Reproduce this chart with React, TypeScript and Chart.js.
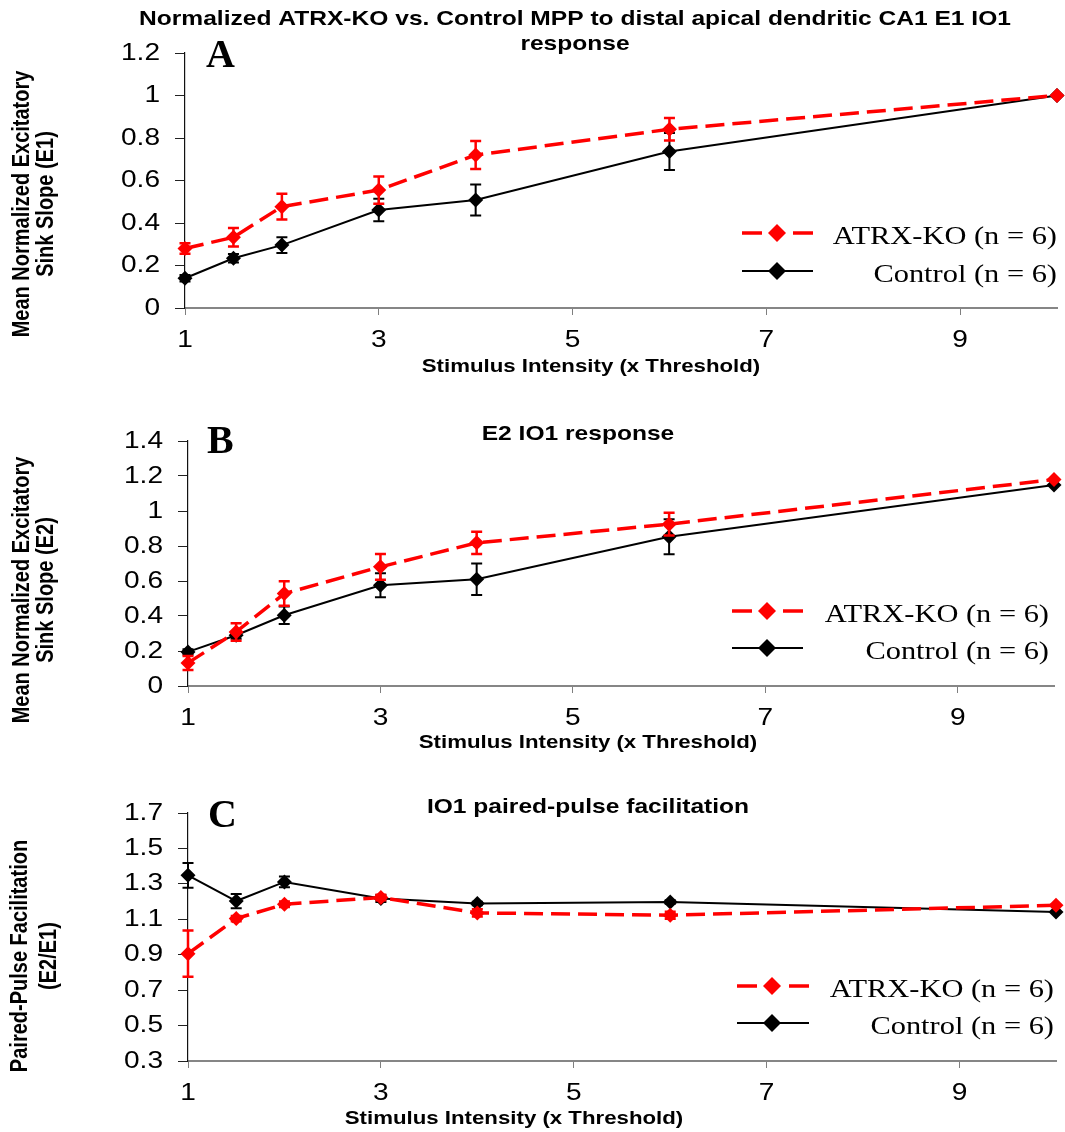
import React, { useEffect, useRef } from 'react';
import { Chart, registerables } from 'chart.js';

Chart.register(...registerables);

// ---------------- data ----------------
const stimulus = [1, 1.5, 2, 3, 4, 6, 10];
const xTicks = [1, 3, 5, 7, 9];
const seriesNames = ['ATRX-KO (n = 6)', 'Control (n = 6)'];

const e1Ticks = [0, 0.2, 0.4, 0.6, 0.8, 1, 1.2];
const e1Atrx = [0.28, 0.333, 0.477, 0.555, 0.72, 0.841, 1.0];
const e1AtrxErr = [0.025, 0.043, 0.061, 0.064, 0.066, 0.053, 0];
const e1Ctrl = [0.14, 0.234, 0.296, 0.461, 0.508, 0.736, 1.0];
const e1CtrlErr = [0.015, 0.02, 0.037, 0.053, 0.073, 0.087, 0];

const e2Ticks = [0, 0.2, 0.4, 0.6, 0.8, 1, 1.2, 1.4];
const e2Atrx = [0.132, 0.309, 0.528, 0.681, 0.818, 0.925, 1.18];
const e2AtrxErr = [0.04, 0.05, 0.07, 0.074, 0.064, 0.065, 0];
const e2Ctrl = [0.195, 0.29, 0.404, 0.576, 0.61, 0.853, 1.148];
const e2CtrlErr = [0.015, 0.02, 0.05, 0.069, 0.09, 0.1, 0];

const ppfTicks = [0.3, 0.5, 0.7, 0.9, 1.1, 1.3, 1.5, 1.7];
const ppfAtrx = [0.906, 1.104, 1.185, 1.223, 1.136, 1.123, 1.179];
const ppfAtrxErr = [0.13, 0.015, 0.015, 0.015, 0.02, 0.02, 0];
const ppfCtrl = [1.348, 1.203, 1.311, 1.217, 1.189, 1.198, 1.141];
const ppfCtrlErr = [0.07, 0.04, 0.03, 0.02, 0.01, 0.01, 0];

const xTitle = 'Stimulus Intensity (x Threshold)';

// ---------------- styles ----------------
const RED = '#ff0000';
const BLACK = '#000000';
const SANS = '"Liberation Sans", Arial, sans-serif';
const SERIF = '"Liberation Serif", "Times New Roman", serif';
const WIDTH = 1065;
const SX = 1.17; // horizontal stretch of the original figure's text

type Panel = {
  top: number;
  height: number;
  area: { top: number; bottom: number; left: number; right: number };
  yTicks: number[];
  atrx: number[];
  atrxErr: number[];
  ctrl: number[];
  ctrlErr: number[];
  title: { lines: string[]; x: number; baselines: number[] };
  letter: { text: string; x: number; y: number };
  xt: { x: number; y: number };
  yt: { lines: string[]; xs: number[]; y: number };
  legend: { rows: number[]; x1: number; x2: number; cx: number; right: number };
};

const panels: Panel[] = [
  {
    top: 0,
    height: 380,
    area: { top: 53, bottom: 308, left: 185, right: 1057 },
    yTicks: e1Ticks,
    atrx: e1Atrx,
    atrxErr: e1AtrxErr,
    ctrl: e1Ctrl,
    ctrlErr: e1CtrlErr,
    title: {
      lines: ['Normalized ATRX-KO vs. Control MPP to distal apical dendritic CA1 E1 IO1', 'response'],
      x: 575,
      baselines: [25, 50],
    },
    letter: { text: 'A', x: 206, y: 67 },
    xt: { x: 591, y: 367 },
    yt: { lines: ['Mean Normalized Excitatory', 'Sink Slope (E1)'], xs: [22.5, 46.5], y: 204 },
    legend: { rows: [233, 271], x1: 742, x2: 813, cx: 777, right: 1057 },
  },
  {
    top: 380,
    height: 380,
    area: { top: 61, bottom: 306, left: 188, right: 1054 },
    yTicks: e2Ticks,
    atrx: e2Atrx,
    atrxErr: e2AtrxErr,
    ctrl: e2Ctrl,
    ctrlErr: e2CtrlErr,
    title: { lines: ['E2 IO1 response'], x: 578, baselines: [60] },
    letter: { text: 'B', x: 207, y: 73 },
    xt: { x: 588, y: 363 },
    yt: { lines: ['Mean Normalized Excitatory', 'Sink Slope (E2)'], xs: [22.5, 46.5], y: 210 },
    legend: { rows: [231, 268], x1: 732, x2: 803, cx: 767, right: 1049 },
  },
  {
    top: 760,
    height: 372,
    area: { top: 53, bottom: 301, left: 188, right: 1056 },
    yTicks: ppfTicks,
    atrx: ppfAtrx,
    atrxErr: ppfAtrxErr,
    ctrl: ppfCtrl,
    ctrlErr: ppfCtrlErr,
    title: { lines: ['IO1 paired-pulse facilitation'], x: 588, baselines: [53] },
    letter: { text: 'C', x: 208, y: 67 },
    xt: { x: 514, y: 359 },
    yt: { lines: ['Paired-Pulse Facilitation', '(E2/E1)'], xs: [21, 50], y: 196 },
    legend: { rows: [226, 263], x1: 737, x2: 809, cx: 772, right: 1054 },
  },
];

function diamond(ctx: CanvasRenderingContext2D, x: number, y: number, r: number, color: string) {
  ctx.beginPath();
  ctx.moveTo(x, y - r);
  ctx.lineTo(x + r, y);
  ctx.lineTo(x, y + r);
  ctx.lineTo(x - r, y);
  ctx.closePath();
  ctx.fillStyle = color;
  ctx.fill();
}

function stretched(
  ctx: CanvasRenderingContext2D,
  text: string,
  x: number,
  y: number,
  align: CanvasTextAlign,
  baseline: CanvasTextBaseline,
  sx: number
) {
  ctx.save();
  ctx.translate(x, y);
  ctx.scale(sx, 1);
  ctx.textAlign = align;
  ctx.textBaseline = baseline;
  ctx.fillText(text, 0, 0);
  ctx.restore();
}

const fmt = (v: number) => String(Number(v.toFixed(2)));

function makeDecor(p: Panel) {
  const errs = [p.atrxErr, p.ctrlErr];
  const errColors = [RED, BLACK];
  const errWidths = [2.5, 2];
  return {
    id: 'decor',
    afterDatasetDraw(chart: any, args: any) {
      const i = args.index;
      const ds = chart.data.datasets[i];
      const xs = chart.scales.x;
      const ys = chart.scales.y;
      const ctx: CanvasRenderingContext2D = chart.ctx;
      ctx.save();
      ctx.strokeStyle = errColors[i];
      ctx.lineWidth = errWidths[i];
      ctx.setLineDash([]);
      ds.data.forEach((pt: any, j: number) => {
        const e = errs[i][j];
        if (!e) return;
        const px = xs.getPixelForValue(pt.x);
        const t = ys.getPixelForValue(pt.y + e);
        const b = ys.getPixelForValue(pt.y - e);
        const cap = 5.5;
        ctx.beginPath();
        ctx.moveTo(px, t);
        ctx.lineTo(px, b);
        ctx.moveTo(px - cap, t);
        ctx.lineTo(px + cap, t);
        ctx.moveTo(px - cap, b);
        ctx.lineTo(px + cap, b);
        ctx.stroke();
      });
      ctx.restore();
    },
    afterDraw(chart: any) {
      const ctx: CanvasRenderingContext2D = chart.ctx;
      const xs = chart.scales.x;
      const ys = chart.scales.y;
      const area = chart.chartArea;
      ctx.save();
      ctx.fillStyle = BLACK;

      // tick labels
      ctx.font = `24px ${SANS}`;
      ys.ticks.forEach((t: any) => {
        stretched(ctx, fmt(t.value), area.left - 25, ys.getPixelForValue(t.value), 'right', 'middle', SX);
      });
      xs.ticks.forEach((t: any) => {
        stretched(ctx, fmt(t.value), xs.getPixelForValue(t.value), area.bottom + 32, 'center', 'middle', SX);
      });

      // title
      ctx.font = `bold 21px ${SANS}`;
      p.title.lines.forEach((t, i) => stretched(ctx, t, p.title.x, p.title.baselines[i], 'center', 'alphabetic', SX));

      // panel letter
      ctx.font = `bold 40px ${SERIF}`;
      stretched(ctx, p.letter.text, p.letter.x, p.letter.y, 'left', 'alphabetic', 1);

      // x title
      ctx.font = `bold 19px ${SANS}`;
      stretched(ctx, xTitle, p.xt.x, p.xt.y, 'center', 'middle', SX);

      // y title (rotated)
      ctx.font = `bold 20px ${SANS}`;
      p.yt.lines.forEach((t, i) => {
        ctx.save();
        ctx.translate(p.yt.xs[i], p.yt.y);
        ctx.rotate(-Math.PI / 2);
        ctx.scale(1, SX);
        ctx.textAlign = 'center';
        ctx.textBaseline = 'middle';
        ctx.fillText(t, 0, 0);
        ctx.restore();
      });

      // legend
      const L = p.legend;
      const colors = [RED, BLACK];
      L.rows.forEach((y, i) => {
        ctx.strokeStyle = colors[i];
        ctx.setLineDash([]);
        ctx.beginPath();
        if (i === 0) {
          ctx.lineWidth = 3.5;
          ctx.moveTo(L.x1, y);
          ctx.lineTo(L.x1 + 20, y);
          ctx.moveTo(L.x2 - 20, y);
          ctx.lineTo(L.x2, y);
        } else {
          ctx.lineWidth = 2;
          ctx.moveTo(L.x1, y);
          ctx.lineTo(L.x2, y);
        }
        ctx.stroke();
        diamond(ctx, L.cx, y, 9, colors[i]);
        ctx.fillStyle = BLACK;
        ctx.font = `26px ${SERIF}`;
        stretched(ctx, seriesNames[i], L.right, y + 11, 'right', 'alphabetic', SX);
      });
      ctx.restore();
    },
  };
}

function PanelChart({ p }: { p: Panel }) {
  const ref = useRef<HTMLCanvasElement>(null);
  useEffect(() => {
    const canvas = ref.current;
    if (!canvas) return;
    const a = p.area;
    const yMin = p.yTicks[0];
    const yMax = p.yTicks[p.yTicks.length - 1];
    const chart = new Chart(canvas, {
      type: 'line',
      data: {
        datasets: [
          {
            label: seriesNames[0],
            data: stimulus.map((x, i) => ({ x, y: p.atrx[i] })),
            borderColor: RED,
            backgroundColor: RED,
            borderWidth: 3.5,
            borderDash: [19, 8],
            pointStyle: 'rectRot',
            pointRadius: 7.5,
            pointBorderWidth: 0,
            pointBackgroundColor: RED,
            pointBorderColor: RED,
            tension: 0,
            clip: false,
          },
          {
            label: seriesNames[1],
            data: stimulus.map((x, i) => ({ x, y: p.ctrl[i] })),
            borderColor: BLACK,
            backgroundColor: BLACK,
            borderWidth: 2,
            pointStyle: 'rectRot',
            pointRadius: 7.5,
            pointBorderWidth: 0,
            pointBackgroundColor: BLACK,
            pointBorderColor: BLACK,
            tension: 0,
            clip: false,
          },
        ] as any,
      },
      options: {
        responsive: false,
        animation: false,
        events: [],
        layout: { padding: { top: a.top, bottom: 0, left: 0, right: WIDTH - a.right } },
        plugins: {
          legend: { display: false },
          tooltip: { enabled: false },
          title: { display: false },
        },
        scales: {
          x: {
            type: 'linear',
            min: 1,
            max: 10,
            afterBuildTicks: (s: any) => {
              s.ticks = xTicks.map((v) => ({ value: v }));
            },
            afterFit: (s: any) => {
              s.height = p.height - a.bottom;
            },
            grid: {
              display: true,
              drawOnChartArea: false,
              drawTicks: true,
              tickLength: 7,
              color: '#7f7f7f',
              lineWidth: 1,
            },
            border: { display: true, color: '#868686', width: 2 },
            ticks: { display: false, autoSkip: false },
          },
          y: {
            type: 'linear',
            min: yMin,
            max: yMax,
            afterBuildTicks: (s: any) => {
              s.ticks = p.yTicks.map((v) => ({ value: v }));
            },
            afterFit: (s: any) => {
              s.width = a.left;
            },
            grid: {
              display: true,
              drawOnChartArea: false,
              drawTicks: true,
              tickLength: 10,
              color: '#222222',
              lineWidth: 1,
            },
            border: { display: true, color: '#111111', width: 1.2 },
            ticks: { display: false, autoSkip: false },
          },
        },
      } as any,
      plugins: [makeDecor(p) as any],
    });
    return () => chart.destroy();
  }, [p]);
  return (
    <canvas
      ref={ref}
      width={WIDTH}
      height={p.height}
      style={{ position: 'absolute', left: 0, top: p.top, width: WIDTH, height: p.height, display: 'block' }}
    />
  );
}

export default function App() {
  return (
    <div style={{ position: 'absolute', left: 0, top: 0, width: WIDTH, height: 1132, background: '#ffffff' }}>
      {panels.map((p) => (
        <PanelChart key={p.letter.text} p={p} />
      ))}
    </div>
  );
}
